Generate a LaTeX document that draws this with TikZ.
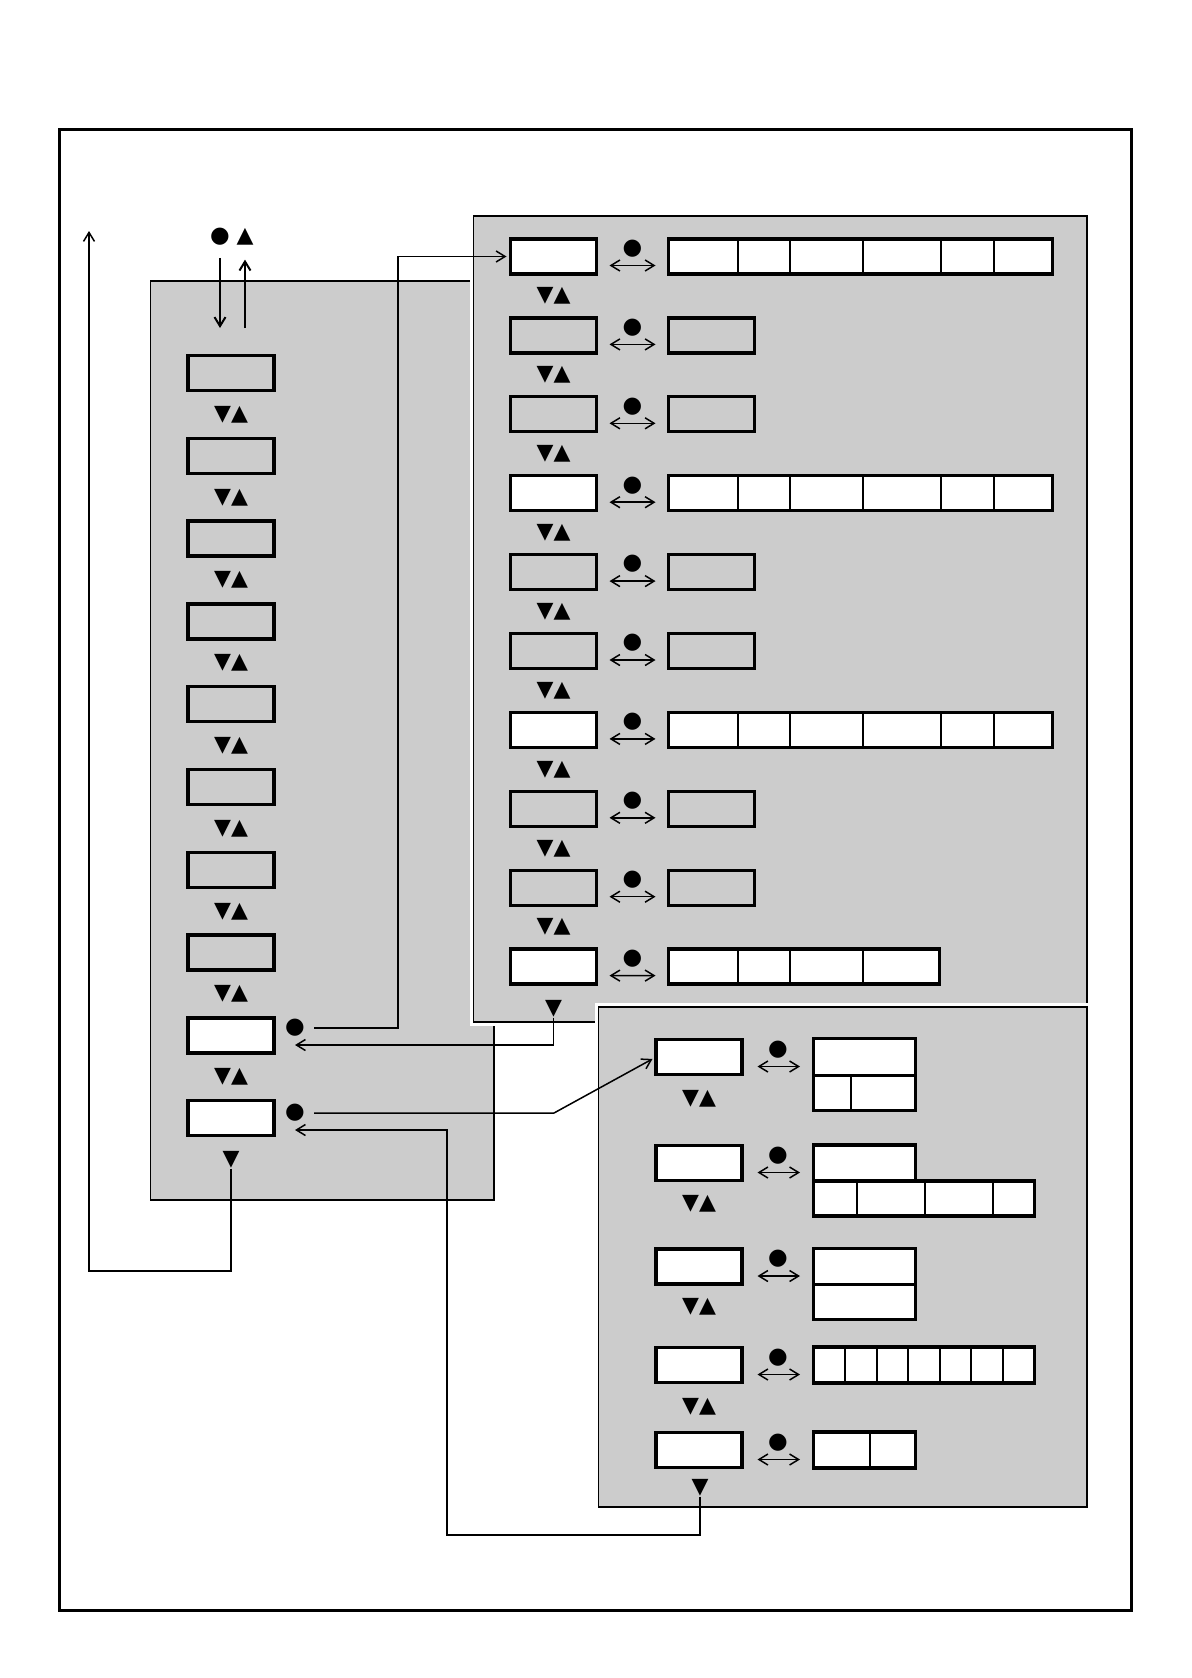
\documentclass[tikz,border=0pt]{standalone}
\usepackage{fontspec}
\newfontfamily\symfont{DejaVu Sans}
\usetikzlibrary{positioning,arrows.meta}
\begin{document}
\begin{tikzpicture}[x=1pt,y=-1pt,>={Straight Barb[length=9pt,width=11pt]}]
\useasboundingbox (0,0) rectangle (1191,1678);
\colorlet{panelgray}{black!20}
\tikzset{panel/.style={draw,line width=1.3pt,fill=panelgray,preaction={draw=white,line width=8pt}},
         cell/.style={draw,line width=3.3pt,minimum width=86pt,minimum height=35pt,inner sep=0pt,outer sep=0pt},
         divider/.style={line width=2pt},
         link/.style={line width=1.5pt},
         dot/.style={font=\symfont\fontsize{22.5}{22.5}\selectfont,inner sep=0pt},
         tri/.style={font=\symfont\fontsize{22}{22}\selectfont,inner sep=0pt}}

% frame and the three panels
\draw[line width=3pt] (59,129) rectangle (1131.5,1610);
\draw[panel] (150.5,281) rectangle (494,1200);
\draw[panel] (473.5,216) rectangle (1087,1022);
\draw[panel] (598.5,1007) rectangle (1087,1507);

% left column
\node[dot] (topdot) at (220,237) {●};
\node[tri] (toptri) at (245,237) {▲};
\foreach \i/\f in {1/panelgray,2/panelgray,3/panelgray,4/panelgray,5/panelgray,6/panelgray,7/panelgray,8/panelgray,9/white,10/white}
    \node[cell,fill=\f] (l\i) at (231,{373+82.8*(\i-1)}) {};
\foreach \i in {1,...,9}
    \node[tri] (lm\i) at (231,{414.5+82.8*(\i-1)}) {▼▲};
\node[tri] (lend) at (231,1160) {▼};
\node[dot] (d9) at (295,1028) {●};
\node[dot] (d10) at (295,1113) {●};

% upper right panel: box / fill
\foreach \i/\f in {1/white,2/panelgray,3/panelgray,4/white,5/panelgray,6/panelgray,7/white,8/panelgray,9/panelgray,10/white}
{
    \node[cell,fill=\f] (rb\i) at (553.5,{256.5+78.9*(\i-1)}) {};
    \node[dot] (rc\i) at (632.5,{248.5+78.9*(\i-1)}) {●};
}
\foreach \i in {1,4,7}
{
    \node[cell,fill=white,minimum width=384pt] (rs\i) at (860.5,{256.5+78.9*(\i-1)}) {};
    \foreach \d in {69,121,194,272,325}
        \draw[divider] ([xshift=\d pt]rs\i.north west) -- ([xshift=\d pt]rs\i.south west);
}
\foreach \i in {2,3,5,6,8,9}
    \node[cell,fill=panelgray] (rs\i) at (711.5,{256.5+78.9*(\i-1)}) {};
\node[cell,fill=white,minimum width=271pt] (rs10) at (804,966.6) {};
\foreach \d in {69,121,194}
    \draw[divider] ([xshift=\d pt]rs10.north west) -- ([xshift=\d pt]rs10.south west);
\foreach \i in {1,...,10}
    \draw[link,<->] ([xshift=13pt,yshift=-9pt]rb\i.east) -- ([xshift=-13pt,yshift=-9pt]rs\i.west);
\foreach \i in {1,...,9}
    \node[tri] (rm\i) at (553.5,{296+78.9*(\i-1)}) {▼▲};
\node[tri] (rend) at (553.5,1009) {▼};

% lower right panel
\foreach \i/\y in {1/1057,2/1163,3/1266.5,4/1365,5/1450}
{
    \node[cell,fill=white] (bb\i) at (699,\y) {};
    \node[dot] (bc\i) at (778,{\y-7.5}) {●};
}
\node[cell,fill=white,minimum width=102pt,minimum height=37pt] (bs1) at (864.5,1057) {};
\node[cell,fill=white,minimum width=102pt,anchor=north west] (bs1b) at (bs1.south west) {};
\draw[divider] ([xshift=37.5pt]bs1b.north west) -- ([xshift=37.5pt]bs1b.south west);
\node[cell,fill=white,minimum width=102pt,minimum height=36pt] (bs2) at (864.5,1163) {};
\node[cell,fill=white,minimum width=221pt,anchor=north west] (bs2b) at (bs2.south west) {};
\foreach \d in {43.5,111.5,179.5}
    \draw[divider] ([xshift=\d pt]bs2b.north west) -- ([xshift=\d pt]bs2b.south west);
\node[cell,fill=white,minimum width=102pt,minimum height=36pt] (bs3) at (864.5,1266.5) {};
\node[cell,fill=white,minimum width=102pt,anchor=north west] (bs3b) at (bs3.south west) {};
\node[cell,fill=white,minimum width=221pt,minimum height=36pt] (bs4) at (924,1365) {};
\foreach \k in {1,...,6}
    \draw[divider] ([xshift=\k*31.57pt]bs4.north west) -- ([xshift=\k*31.57pt]bs4.south west);
\node[cell,fill=white,minimum width=102pt,minimum height=36pt] (bs5) at (864.5,1450) {};
\draw[divider] ([xshift=56.5pt]bs5.north west) -- ([xshift=56.5pt]bs5.south west);
\foreach \i in {1,...,5}
    \draw[link,<->] ([xshift=15.5pt,yshift=-9.5pt]bb\i.east) -- ([xshift=-13.5pt,yshift=-9.5pt]bb\i.east -| bs\i.west);
\foreach \i/\y in {1/1099,2/1204,3/1307,4/1407}
    \node[tri] (bm\i) at (699,\y) {▼▲};
\node[tri] (bend) at (700,1488) {▼};

% connectors
\coordinate (inend) at (220,328);
\coordinate (outend) at (245,328);
\draw[line width=2pt,->] (topdot.south) ++(0,12) -- (inend);
\draw[line width=2pt,->] (outend) -- ([yshift=-14pt]toptri.south);
\coordinate (loopL) at (89,1271);
\coordinate (outtop) at (89,231);
\draw[link,->] (lend) |- (loopL) -- (outtop);
\coordinate (up9) at (398,256.5);
\draw[link,->,shorten >=4pt] ([xshift=9pt]d9.east) -| (up9) -- (rb1.west);
\coordinate (back9) at (295,1045);
\draw[link,->] (rend) |- (back9);
\coordinate (kink10) at (554,1113);
\draw[link,->,shorten >=4pt] ([xshift=9pt]d10.east) -- (kink10) -- (bb1.west);
\coordinate (low) at (447,1535);
\coordinate (back10) at (295,1130);
\draw[link,->] (bend) |- (low) |- (back10);
\end{tikzpicture}
\end{document}
